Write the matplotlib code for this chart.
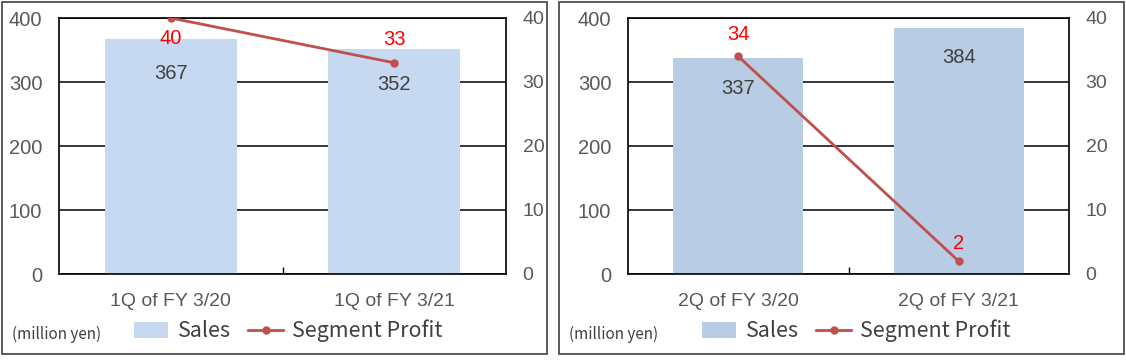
#!/usr/bin/env python3
"""Sales (bars) and segment profit (line) for 1Q and 2Q, side by side."""

import matplotlib

matplotlib.use("Agg")
import matplotlib.pyplot as plt
from matplotlib.patches import Rectangle

# ---------------------------------------------------------------------------
# Data
# ---------------------------------------------------------------------------
q1_labels = ["1Q of FY 3/20", "1Q of FY 3/21"]
q1_sales = [367, 352]
q1_profit = [40, 33]

q2_labels = ["2Q of FY 3/20", "2Q of FY 3/21"]
q2_sales = [337, 384]
q2_profit = [34, 2]

sales_ticks = [0, 100, 200, 300, 400]
profit_ticks = [0, 10, 20, 30, 40]

# ---------------------------------------------------------------------------
# Style
# ---------------------------------------------------------------------------
W, H = 1126, 363
TICK_GREY = "#595959"
VALUE_GREY = "#404040"
LINE_RED = "#C0504D"
LABEL_RED = "#FF0000"
NUM_FONT = ["Liberation Sans", "DejaVu Sans"]
TXT_FONT = ["Noto Sans CJK JP", "DejaVu Sans"]

plt.rcParams["font.family"] = NUM_FONT


def px_rect(x0, y0, x1, y1):
    """Pixel box (top-left origin) -> figure fraction [l, b, w, h]."""
    return [x0 / W, 1 - y1 / H, (x1 - x0) / W, (y1 - y0) / H]


def draw_panel(fig, box, frame, labels, sales, profit, bar_color, sales_off, profit_off,
               legend_x, unit_x):
    ax = fig.add_axes(px_rect(*box))
    xs = list(range(len(labels)))
    bars = ax.bar(xs, sales, width=0.59, color=bar_color, zorder=2, label="Sales")
    ax.set_xlim(-0.5, len(labels) - 0.5)
    ax.set_ylim(0, 400)
    ax.set_yticks(sales_ticks)
    ax.grid(axis="y", color="black", lw=1.1, zorder=1)
    ax.set_axisbelow(True)
    ax.set_xticks(xs)
    ax.set_xticklabels(labels, fontsize=14, color=TICK_GREY)
    ax.set_xticks([0.5], minor=True)
    ax.tick_params(axis="x", which="major", length=0, pad=14)
    ax.tick_params(axis="x", which="minor", length=5, direction="in", width=1)
    ax.tick_params(axis="y", length=0, labelsize=14.5, labelcolor=TICK_GREY, pad=12)
    for s in ax.spines.values():
        s.set_color("black")
        s.set_linewidth(1.2)

    for x, v, off in zip(xs, sales, sales_off):
        ax.annotate(str(v), (x, v), xytext=(0, off), textcoords="offset pixels",
                    ha="center", va="center", fontsize=14.5, color=VALUE_GREY, zorder=4)

    ax2 = ax.twinx()
    (line,) = ax2.plot(xs, profit, color=LINE_RED, lw=2, marker="o", ms=5,
                       label="Segment Profit", zorder=3)
    ax2.set_ylim(0, 40)
    ax2.set_yticks(profit_ticks)
    ax2.tick_params(axis="y", length=0, labelsize=14, labelcolor=TICK_GREY, pad=12)
    for s in ax2.spines.values():
        s.set_visible(False)
    for x, v, off in zip(xs, profit, profit_off):
        ax2.annotate(str(v), (x, v), xytext=(0, off), textcoords="offset pixels",
                     ha="center", va="center", fontsize=14.5, color=LABEL_RED)

    # panel frame
    fig.patches.append(Rectangle((frame[0] / W, 1 - frame[3] / H),
                                 (frame[2] - frame[0]) / W, (frame[3] - frame[1]) / H,
                                 transform=fig.transFigure, fill=False,
                                 edgecolor="#404040", lw=1.2))

    fig.text(unit_x / W, 1 - 334 / H, "(million yen)", fontsize=11, color=VALUE_GREY,
             family=TXT_FONT, va="center", ha="left")
    fig.legend(handles=[bars, line], loc="center left",
               bbox_to_anchor=(legend_x / W, 1 - 331 / H), ncol=2, frameon=False,
               prop={"family": TXT_FONT, "size": 15.5}, labelcolor=VALUE_GREY,
               handlelength=1.6, handleheight=0.75, handletextpad=0.45,
               columnspacing=0.8, borderaxespad=0, borderpad=0)


fig = plt.figure(figsize=(W / 100, H / 100), dpi=100)

draw_panel(fig, (59, 18, 506, 274), (2, 2, 547, 354), q1_labels, q1_sales, q1_profit,
           "#C6D9F0", [-34, -36], [-21, 23], 134, 12)
draw_panel(fig, (628, 18, 1069, 274), (559, 2, 1124, 354), q2_labels, q2_sales, q2_profit,
           "#B8CCE4", [-30, -29], [22, 18], 702, 569)

fig.savefig("out.png", dpi=100)
